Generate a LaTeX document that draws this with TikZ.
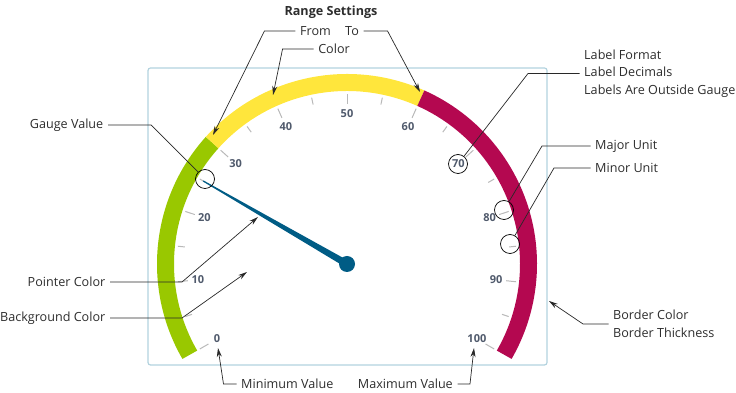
\documentclass[tikz,border=0pt]{standalone}
\usepackage{fontspec}
\setmainfont{Open Sans}
\usetikzlibrary{arrows.meta}
\definecolor{gaugegreen}{RGB}{153,200,0}
\definecolor{gaugeyellow}{RGB}{255,230,60}
\definecolor{gaugered}{RGB}{180,8,80}
\definecolor{gaugeborder}{RGB}{178,210,222}
\definecolor{pointerblue}{RGB}{0,92,133}
\definecolor{tickgray}{RGB}{185,185,185}
\definecolor{labelblue}{RGB}{80,90,108}
\definecolor{notetext}{RGB}{45,45,45}
\definecolor{leadline}{RGB}{40,40,40}

\begin{document}
\begin{tikzpicture}[x=1pt,y=1pt,>={Stealth[length=9pt,width=5pt]},
  note/.style={font=\fontsize{12.6}{17.5}\selectfont,text=notetext,inner sep=4.5pt,align=left},
  lead/.style={draw=leadline,line width=.7pt},
  ring/.style={circle,draw=black,line width=.7pt,minimum size=19pt,inner sep=0pt},
  band/.style={line width=17pt},
  scaletick/.style={draw=tickgray,line width=1pt},
  scalelabel/.style={font=\fontsize{11}{12}\selectfont\bfseries,text=labelblue}]
  \useasboundingbox (0,0) rectangle (736,393);
  % Rahmen
  \draw[gaugeborder,line width=1.2pt,rounded corners=2.5pt] (148,28) rectangle (547,325);
  % Skala
  \begin{scope}[shift={(347,129)}]
    \draw[band,gaugegreen] (210:181.5) arc (210:138:181.5);
    \draw[band,gaugeyellow] (138:181.5) arc (138:66:181.5);
    \draw[band,gaugered] (66:181.5) arc (66:-30:181.5);
    \foreach \v [evaluate=\v as \a using 210-2.4*\v] in {0,10,...,100} {
      \draw[scaletick] (\a:160) -- (\a:170);
      \node[scalelabel] at (\a:150) {\v};
    }
    \foreach \v [evaluate=\v as \a using 210-2.4*\v] in {5,15,...,95}
      \draw[scaletick] (\a:163) -- (\a:170);
    % Zeiger
    \fill[pointerblue,rotate=150] (0,-3.5) -- (166,-.6) -- (166,.6) -- (0,3.5) -- cycle;
    \fill[pointerblue] (0,0) circle (8);
  \end{scope}
  % Markierungen
  \node[ring] (gvring) at (205,214) {};
  \node[ring] (lblring) at (458,229) {};
  \node[ring] (majorring) at (504,183) {};
  \node[ring] (minorring) at (510,149) {};
  % Range Settings
  \node[note,font=\fontsize{12.6}{14}\selectfont\bfseries] (range) at (331,381) {Range Settings};
  \node[note] (from) at (315.5,362) {From};
  \node[note] (to) at (352,362) {To};
  \node[note] (color) at (334,344) {Color};
  \coordinate (fromtip) at (213,258);
  \coordinate (totip) at (420,301);
  \coordinate (colortip) at (273,298);
  \draw[lead,->] (from.west) -- ++(-31,0) -- (fromtip);
  \draw[lead,->] (to.east) -- ++(24,0) -- (totip);
  \draw[lead,->] (color.west) -- ++(-31,0) -- (colortip);
  % links
  \node[note,anchor=east] (gvnote) at (108,268) {Gauge Value};
  \node[note,anchor=east] (ptrnote) at (110,111) {Pointer Color};
  \node[note,anchor=east] (bgnote) at (110,75) {Background Color};
  \coordinate (ptrtip) at (258,176);
  \coordinate (bgtip) at (247,121);
  \draw[lead] (gvnote.east) -- ++(43,0) -- (gvring);
  \draw[lead,->] (ptrnote.east) -- ++(72,0) -- (ptrtip);
  \draw[lead,->] (bgnote.east) -- ++(72,0) -- (bgtip);
  % unten
  \node[note,anchor=west] (minnote) at (236.5,9) {Minimum Value};
  \node[note,anchor=east] (maxnote) at (457.5,9) {Maximum Value};
  \coordinate (mintip) at (218,45);
  \coordinate (maxtip) at (474,45);
  \draw[lead,->] (minnote.west) -- ++(-13,0) -- (mintip);
  \draw[lead,->] (maxnote.east) -- ++(12.5,0) -- (maxtip);
  % rechts
  \node[note,anchor=west] (lblnote) at (579.5,319.5) {Label Format\\Label Decimals\\Labels Are Outside Gauge};
  \node[note,anchor=west] (majornote) at (590.5,247) {Major Unit};
  \node[note,anchor=west] (minornote) at (590.5,225) {Minor Unit};
  \node[note,anchor=west] (bordernote) at (608.5,69) {Border Color\\Border Thickness};
  \coordinate (bordertip) at (549,92);
  \draw[lead] (lblnote.west) -- ++(-51.5,0) -- (lblring);
  \draw[lead] (majornote.west) -- ++(-48.5,0) -- (majorring);
  \draw[lead] (minornote.west) -- ++(-36.5,0) -- (minorring);
  \draw[lead,->] (bordernote.west) -- ++(-25.5,0) -- (bordertip);
\end{tikzpicture}
\end{document}
